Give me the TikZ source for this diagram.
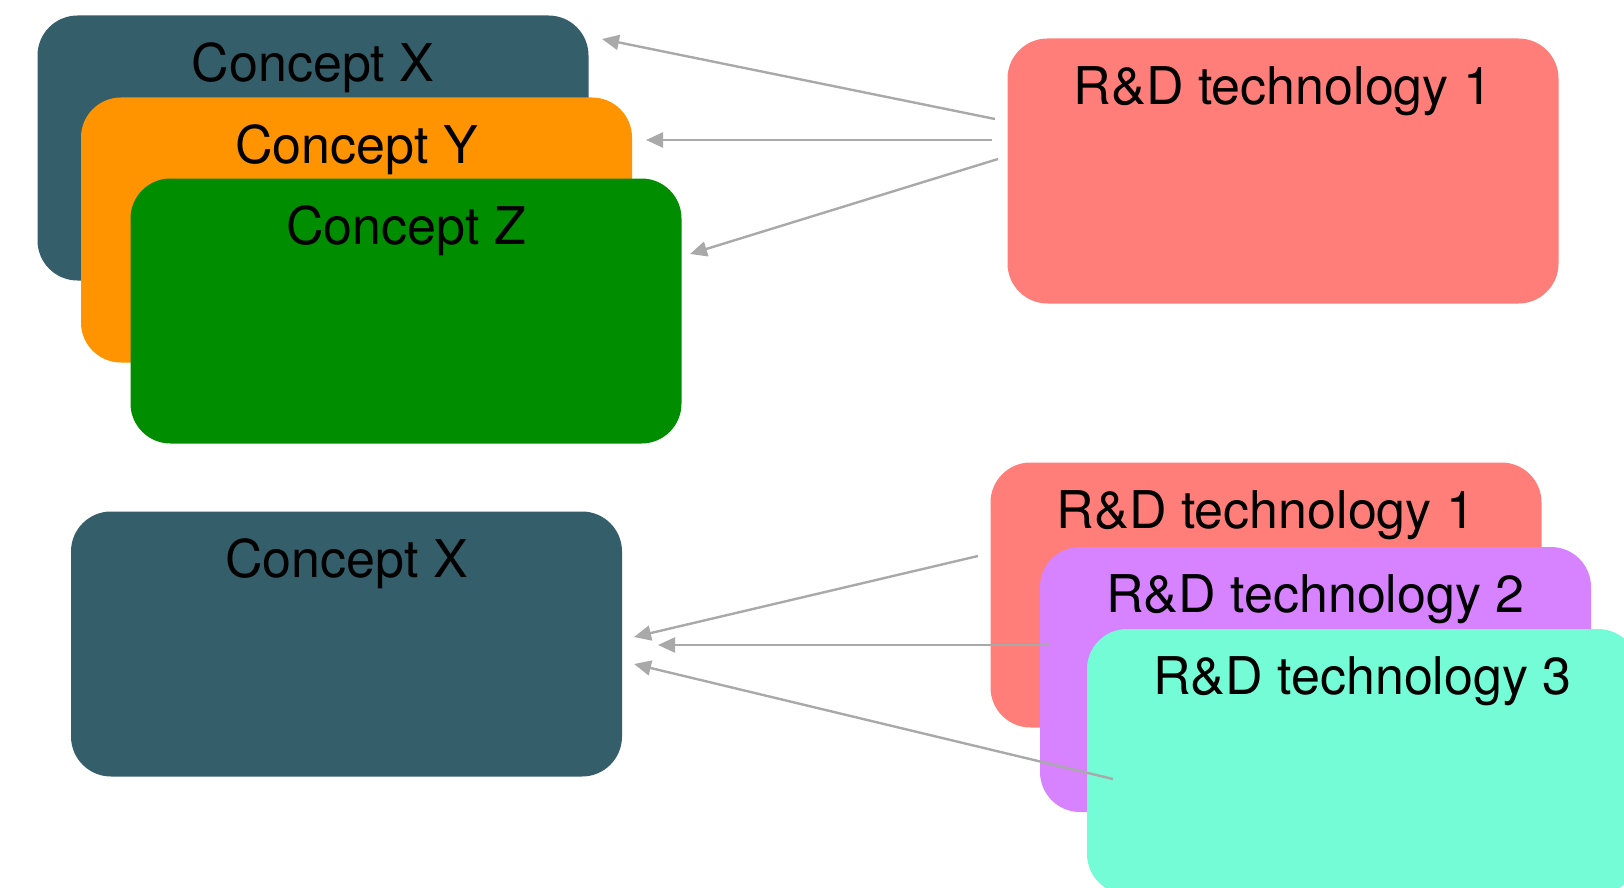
\documentclass[tikz,border=0pt]{standalone}
\usepackage{fontspec}
\setmainfont{TeX Gyre Heros}
\usetikzlibrary{arrows.meta,calc}
\definecolor{slate}{HTML}{345E6A}
\definecolor{tangerine}{HTML}{FF9300}
\definecolor{clover}{HTML}{008E00}
\definecolor{salmon}{HTML}{FF7E79}
\definecolor{lavender}{HTML}{D783FF}
\definecolor{spindrift}{HTML}{73FCD6}
\definecolor{arrowgray}{HTML}{A9A9A9}
\tikzset{
  card/.style={rectangle, rounded corners=40pt, minimum width=551pt, minimum height=265pt, inner sep=0pt, draw=none},
  cardtitle/.style={anchor=base, inner sep=0pt, font=\fontsize{52}{60}\selectfont, text=black},
  link/.style={draw=arrowgray, line width=2.4pt, -{Triangle[length=17pt,width=15pt]}}
}
\begin{document}
\begin{tikzpicture}[x=1pt, y=-1pt]
  \useasboundingbox (0,0) rectangle (1624,888);
  \clip (0,0) rectangle (1624,888);
  % upper group: three concepts fed by one technology
  \node[card, fill=slate]     (cx1) at (313,148) {};
  \node[cardtitle] (cx1t) at ($(cx1.north)+(0,66)$) {Concept X};
  \node[card, fill=tangerine] (cy)  at (356.5,230) {};
  \node[cardtitle] (cyt) at ($(cy.north)+(0,66)$) {Concept Y};
  \node[card, fill=clover]    (cz)  at (406,311) {};
  \node[cardtitle] (czt) at ($(cz.north)+(0,66)$) {Concept Z};
  \node[card, fill=salmon]    (rt)  at (1283,171) {};
  \node[cardtitle] (rtt) at ($(rt.north)+(0,66)$) {R\&D technology 1};
  % lower group: one concept fed by three technologies
  \node[card, fill=slate]     (cx2) at (346.5,644) {};
  \node[cardtitle] (cx2t) at ($(cx2.north)+(0,66)$) {Concept X};
  \node[card, fill=salmon]    (r1)  at (1266,595) {};
  \node[cardtitle] (r1t) at ($(r1.north)+(0,66)$) {R\&D technology 1};
  \node[card, fill=lavender]  (r2)  at (1315.5,679.5) {};
  \node[cardtitle] (r2t) at ($(r2.north)+(0,66)$) {R\&D technology 2};
  \node[card, fill=spindrift] (r3)  at (1362.5,761.5) {};
  \node[cardtitle] (r3t) at ($(r3.north)+(0,66)$) {R\&D technology 3};
  % arrow end points
  \coordinate (a1s) at (995,119);  \coordinate (a1e) at (602,39);
  \coordinate (a2s) at (992,140);  \coordinate (a2e) at (646,140);
  \coordinate (a3s) at (998,159);  \coordinate (a3e) at (690,254);
  \coordinate (b1s) at (978,556);  \coordinate (b1e) at (634,637);
  \coordinate (b2s) at (1050,645); \coordinate (b2e) at (658,645);
  \coordinate (b3s) at (1113,779); \coordinate (b3e) at (634,664);
  \draw[link] (a1s) -- (a1e);
  \draw[link] (a2s) -- (a2e);
  \draw[link] (a3s) -- (a3e);
  \draw[link] (b1s) -- (b1e);
  \draw[link] (b2s) -- (b2e);
  \draw[link] (b3s) -- (b3e);
\end{tikzpicture}
\end{document}
